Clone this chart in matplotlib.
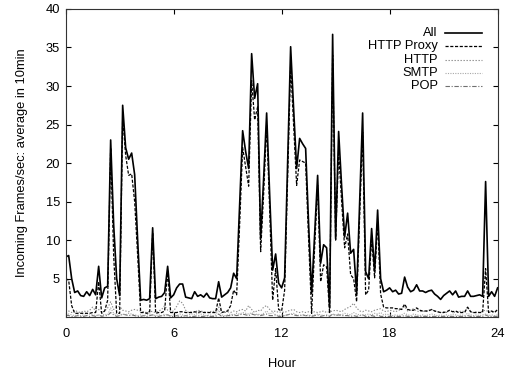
import numpy as np
import matplotlib
matplotlib.use("Agg")
import matplotlib.pyplot as plt

plt.rcParams['font.family'] = ['Liberation Sans', 'DejaVu Sans']

# 10-minute samples, hour 0 .. 24
hours = np.arange(145) / 6.0

all_traffic = [
    7.8, 8.0, 5.0, 3.2, 3.4, 2.8,
    2.7, 3.3, 2.8, 3.6, 2.9, 6.6,
    2.5, 3.8, 4.0, 23.0, 12.0, 5.0,
    2.8, 27.5, 22.0, 20.5, 21.3, 18.5,
    10.0, 2.2, 2.3, 2.2, 2.4, 11.6,
    2.4, 2.6, 2.7, 3.2, 6.6, 2.5,
    2.9, 3.8, 4.3, 4.3, 2.6, 2.5,
    2.4, 3.3, 2.7, 2.9, 2.6, 3.1,
    2.5, 2.4, 2.4, 4.6, 2.6, 2.9,
    3.2, 3.8, 5.7, 5.0, 14.5, 24.2,
    21.5, 19.3, 34.2, 28.4, 30.3, 10.2,
    18.0, 26.5, 16.0, 6.1, 8.2, 4.4,
    3.8, 5.1, 20.0, 35.1, 27.0, 19.3,
    23.2, 22.5, 21.9, 12.0, 3.1, 10.7,
    18.4, 7.0, 9.4, 9.0, 1.2, 36.7,
    10.2, 24.1, 17.0, 10.4, 13.5, 8.3,
    8.8, 3.1, 15.0, 26.5, 5.9, 5.0,
    11.5, 6.0, 13.9, 5.0, 3.3, 3.5,
    3.8, 3.3, 3.5, 3.0, 3.1, 5.2,
    3.9, 3.3, 3.5, 4.2, 3.4, 3.4,
    3.2, 3.4, 3.5, 3.0, 2.7, 2.3,
    2.8, 3.1, 3.4, 2.9, 3.4, 2.6,
    2.7, 2.7, 3.4, 2.7, 2.7, 2.8,
    2.9, 2.7, 17.6, 2.7, 3.3, 2.7,
    3.8,
]

http_proxy = [
    5.0, 4.8, 1.5, 0.5, 0.5, 0.5,
    0.5, 0.5, 0.5, 0.6, 0.6, 4.6,
    0.5, 0.8, 2.2, 22.0, 8.0, 0.5,
    0.5, 26.0, 21.0, 18.4, 18.6, 15.0,
    8.0, 0.6, 0.6, 0.5, 0.6, 11.0,
    0.5, 0.6, 0.6, 0.8, 6.0, 0.6,
    0.6, 0.6, 0.7, 0.7, 0.6, 0.6,
    0.6, 0.7, 0.6, 0.7, 0.6, 0.6,
    0.6, 0.6, 0.6, 2.5, 0.6, 0.7,
    0.8, 1.5, 3.5, 2.9, 12.0, 22.0,
    19.5, 17.0, 30.7, 25.6, 27.3, 8.5,
    16.0, 25.0, 14.0, 2.2, 6.3, 1.0,
    0.8, 3.5, 18.0, 32.7, 25.0, 17.1,
    20.4, 20.2, 20.0, 10.0, 0.5, 9.0,
    17.1, 4.6, 6.8, 6.5, 0.5, 34.0,
    10.0, 21.5, 15.0, 9.0, 10.8, 5.5,
    5.0, 2.0, 13.0, 24.0, 2.9, 3.5,
    10.2, 5.1, 12.3, 3.0, 1.3, 1.2,
    1.2, 1.2, 1.1, 1.1, 1.0, 1.7,
    1.0, 0.9, 0.9, 1.2, 0.9, 0.8,
    0.8, 0.8, 1.0, 0.8, 0.7, 0.6,
    0.6, 0.7, 0.9, 0.7, 0.8, 0.6,
    0.6, 0.6, 1.3, 0.7, 0.6, 0.6,
    0.6, 0.6, 6.3, 0.6, 0.8, 0.6,
    1.0,
]

http = [
    1.0, 0.8, 0.6, 0.9, 0.7, 0.6,
    0.8, 0.7, 0.9, 1.3, 0.8, 1.0,
    0.6, 0.8, 1.2, 2.0, 1.0, 1.3,
    1.4, 0.9, 0.8, 0.7, 0.9, 1.0,
    0.9, 0.8, 0.7, 0.6, 0.8, 0.7,
    0.6, 0.8, 1.0, 1.5, 0.9, 0.7,
    0.8, 1.4, 2.1, 1.8, 0.9, 0.6,
    0.7, 0.6, 0.9, 0.8, 0.7, 0.6,
    0.7, 0.8, 0.6, 1.3, 0.7, 0.6,
    0.7, 0.6, 0.8, 0.7, 0.9, 1.0,
    0.8, 1.5, 1.0, 0.6, 0.9, 0.8,
    1.3, 1.5, 1.0, 0.7, 0.8, 0.6,
    0.7, 0.6, 0.8, 0.9, 1.0, 0.7,
    0.6, 0.7, 0.6, 0.7, 0.6, 0.7,
    0.6, 0.7, 0.8, 0.6, 0.7, 0.8,
    0.9, 0.8, 0.7, 1.0, 1.2, 1.4,
    1.8, 1.2, 0.8, 0.7, 0.9, 0.8,
    0.7, 0.9, 1.0, 1.1, 0.8, 0.7,
    0.9, 0.8, 0.7, 0.9, 1.0, 1.4,
    0.8, 0.9, 1.1, 0.8, 0.7, 0.8,
    0.7, 0.9, 1.0, 0.8, 0.7, 0.6,
    0.7, 0.6, 0.9, 0.7, 0.6, 0.7,
    0.8, 0.7, 1.3, 0.7, 0.6, 0.7,
    0.6, 0.8, 0.9, 0.7, 0.6, 0.7,
    0.9,
]

smtp = [
    0.5, 0.4, 0.3, 0.2, 0.3, 0.2,
    0.3, 0.2, 0.4, 0.3, 0.2, 0.3,
    0.2, 0.4, 0.3, 1.2, 0.5, 0.3,
    0.2, 0.4, 0.3, 0.5, 0.4, 0.3,
    0.2, 0.3, 0.2, 0.3, 0.4, 0.3,
    0.2, 0.3, 0.2, 0.4, 0.3, 0.2,
    0.3, 0.2, 0.4, 0.3, 0.2, 0.3,
    0.4, 0.3, 0.5, 0.4, 0.3, 0.2,
    0.3, 0.2, 0.3, 0.9, 0.3, 0.2,
    0.3, 0.4, 0.3, 0.5, 0.4, 0.6,
    0.5, 0.4, 0.6, 0.3, 0.4, 0.3,
    0.5, 0.8, 0.4, 0.6, 0.3, 0.2,
    0.3, 0.2, 0.3, 0.4, 0.5, 0.3,
    0.2, 0.3, 0.2, 0.3, 0.2, 0.3,
    0.4, 0.3, 0.2, 0.3, 0.2, 0.4,
    0.3, 0.4, 0.3, 0.5, 0.4, 0.3,
    0.6, 0.4, 0.3, 0.2, 0.3, 0.4,
    0.3, 0.5, 0.4, 0.6, 0.3, 0.4,
    0.3, 0.2, 0.3, 0.2, 0.3, 0.5,
    0.3, 0.2, 0.4, 0.3, 0.2, 0.3,
    0.2, 0.3, 0.4, 0.3, 0.2, 0.3,
    0.2, 0.3, 0.2, 0.4, 0.3, 0.2,
    0.3, 0.2, 0.5, 0.3, 0.2, 0.3,
    0.2, 0.3, 0.4, 0.2, 0.3, 0.2,
    0.3,
]

pop = [
    0.3, 0.2, 0.1, 0.1, 0.2, 0.1,
    0.1, 0.2, 0.1, 0.2, 0.1, 0.3,
    0.1, 0.2, 0.2, 0.6, 0.3, 0.1,
    0.2, 0.4, 0.3, 0.2, 0.3, 0.2,
    0.1, 0.1, 0.2, 0.1, 0.2, 0.3,
    0.1, 0.1, 0.2, 0.2, 0.3, 0.1,
    0.1, 0.2, 0.1, 0.1, 0.2, 0.1,
    0.1, 0.1, 0.2, 0.1, 0.1, 0.2,
    0.1, 0.1, 0.1, 0.4, 0.1, 0.1,
    0.2, 0.2, 0.3, 0.2, 0.3, 0.4,
    0.3, 0.2, 0.4, 0.3, 0.3, 0.2,
    0.3, 0.4, 0.2, 0.2, 0.3, 0.1,
    0.1, 0.2, 0.3, 0.4, 0.3, 0.2,
    0.2, 0.3, 0.2, 0.2, 0.1, 0.2,
    0.3, 0.1, 0.2, 0.2, 0.1, 0.4,
    0.2, 0.3, 0.2, 0.2, 0.2, 0.1,
    0.2, 0.1, 0.2, 0.3, 0.1, 0.1,
    0.2, 0.1, 0.3, 0.1, 0.1, 0.1,
    0.1, 0.1, 0.1, 0.1, 0.1, 0.2,
    0.1, 0.1, 0.1, 0.1, 0.1, 0.1,
    0.1, 0.1, 0.1, 0.1, 0.1, 0.1,
    0.1, 0.1, 0.1, 0.1, 0.1, 0.1,
    0.1, 0.1, 0.2, 0.1, 0.1, 0.1,
    0.1, 0.1, 0.3, 0.1, 0.1, 0.1,
    0.1,
]

series_labels = ["All", "HTTP Proxy", "HTTP", "SMTP", "POP"]
x_ticks = [0, 6, 12, 18, 24]
y_ticks = [5, 10, 15, 20, 25, 30, 35, 40]

# gnuplot-ish line styles
styles = [
    dict(color="black", lw=1.2, linestyle="-"),
    dict(color="black", lw=0.9, linestyle=(0, (2.5, 1.3))),
    dict(color="#8a8a8a", lw=0.8, linestyle=(0, (1.2, 1.5))),
    dict(color="#a8a8a8", lw=0.8, linestyle=(0, (1.0, 1.2))),
    dict(color="#707070", lw=0.8, linestyle=(0, (4, 1.5, 1, 1.5))),
]

fs = 9.3

fig = plt.figure(figsize=(5.13, 3.74), dpi=100)
ax = fig.add_axes([0.128, 0.152, 0.842, 0.824])

data = [all_traffic, http_proxy, http, smtp, pop]
# draw faint series first so All/HTTP Proxy sit on top
for i in [4, 3, 2, 1, 0]:
    ax.plot(hours, data[i], **styles[i])

ax.set_xlim(0, 24)
ax.set_ylim(0, 40)
ax.set_xticks(x_ticks)
ax.set_yticks(y_ticks)
ax.tick_params(direction="in", length=3.5, width=0.8, top=True, right=True,
               labelsize=fs)
ax.tick_params(axis="x", pad=8)
ax.tick_params(axis="y", pad=4)
for s in ax.spines.values():
    s.set_linewidth(0.8)
    s.set_color("#333333")

ax.set_xlabel("Hour", fontsize=fs, labelpad=13)
ax.set_ylabel("Incoming Frames/sec: average in 10min", fontsize=fs, labelpad=13)

# legend drawn gnuplot style: right-aligned text, sample to the right
row_y = [0.921, 0.879, 0.836, 0.793, 0.750]
for lab, st, yy in zip(series_labels, styles, row_y):
    ax.text(0.861, yy, lab, transform=ax.transAxes, ha="right", va="center",
            fontsize=fs)
    ax.plot([0.878, 0.963], [yy, yy], transform=ax.transAxes, **st)

fig.savefig("out.png", dpi=100)
